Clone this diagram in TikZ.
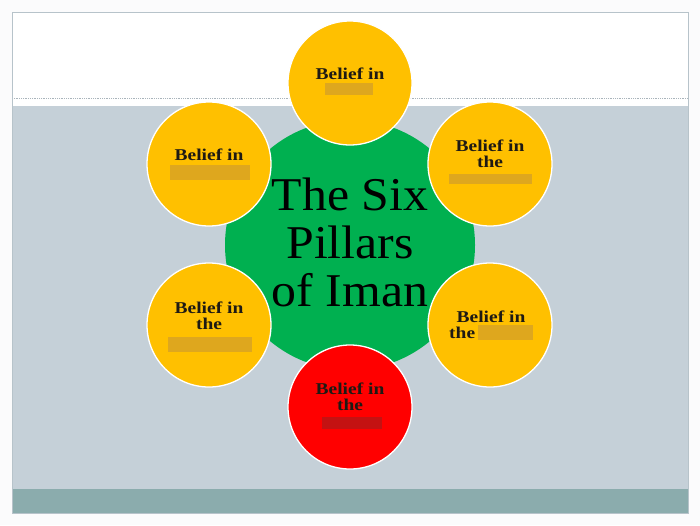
\documentclass[tikz,border=0pt]{standalone}
\usepackage{fontspec}
\setmainfont{Liberation Serif}
\newfontfamily\lblfont[FakeStretch=1.18]{Liberation Serif}
\newfontfamily\titlefont[FakeStretch=1.06]{Liberation Serif}
\definecolor{pagebg}{HTML}{FBFBFC}
\definecolor{slidegrey}{HTML}{C5D0D8}
\definecolor{teal}{HTML}{8BACAD}
\definecolor{framec}{HTML}{B7C3CA}
\definecolor{dotc}{HTML}{A9B4BB}
\definecolor{pillarY}{HTML}{FFC000}
\definecolor{pillarR}{HTML}{FF0000}
\definecolor{coreG}{HTML}{00B050}
\definecolor{blurY}{HTML}{D9A324}
\definecolor{blurR}{HTML}{C41212}
\definecolor{ink}{HTML}{1E1A14}
\tikzset{
  pillar/.style={circle, minimum size=124pt, inner sep=0pt, draw=white, line width=1.3pt},
  core/.style={circle, minimum size=250pt, inner sep=0pt, fill=coreG},
  lbl/.style={anchor=base, inner sep=0pt, font=\lblfont\bfseries\fontsize{16.5}{18}\selectfont, text=ink},
  ttl/.style={anchor=base, inner sep=0pt, font=\titlefont\fontsize{47}{48}\selectfont, text=black},
  blurbox/.style={fill=blurY, opacity=0.85},
}
\begin{document}
\begin{tikzpicture}[x=1pt,y=-1pt]
\useasboundingbox (0,0) rectangle (700,525);
\fill[pagebg] (0,0) rectangle (700,525);
% slide
\fill[white] (12,12) rectangle (688,106);
\fill[slidegrey] (12,106) rectangle (688,489);
\fill[teal] (12,489) rectangle (688,513);
\draw[dotc, densely dotted, line width=0.8pt] (12,98) -- (688,98);
\draw[framec, line width=0.9pt] (12,12) rectangle (688,513);
% core
\node[core] (core) at (350,245) {};
% pillars
\node[pillar, fill=pillarY] (p1) at (350,83) {};
\node[pillar, fill=pillarY] (p2) at (490,164) {};
\node[pillar, fill=pillarY] (p3) at (490,325) {};
\node[pillar, fill=pillarR] (p4) at (350,407) {};
\node[pillar, fill=pillarY] (p5) at (209,325) {};
\node[pillar, fill=pillarY] (p6) at (209,164) {};
% title
\node[ttl] (t1) at (350,210) {The Six};
\node[ttl] (t2) at (350,258) {Pillars};
\node[ttl] (t3) at (350,306) {of Iman};
% labels
\node[lbl] (l1) at (350,79) {Belief in};
\fill[blurbox] (325,83) rectangle (373,95);
\node[lbl] (l2a) at (490,151) {Belief in};
\node[lbl] (l2b) at (490,167) {the};
\fill[blurbox] (449,174) rectangle (532,184);
\node[lbl] (l6) at (209,160) {Belief in};
\fill[blurbox] (170,165) rectangle (250,180);
\node[lbl] (l3a) at (491,322) {Belief in};
\node[lbl, anchor=base west] (l3b) at (449,338) {the};
\fill[blurbox] (478,325) rectangle (533,340);
\node[lbl] (l5a) at (209,313) {Belief in};
\node[lbl] (l5b) at (209,329) {the};
\fill[blurbox] (168,337) rectangle (252,352);
\node[lbl] (l4a) at (350,394) {Belief in};
\node[lbl] (l4b) at (350,410) {the};
\fill[blurR] (322,417) rectangle (382,429);
\end{tikzpicture}
\end{document}
